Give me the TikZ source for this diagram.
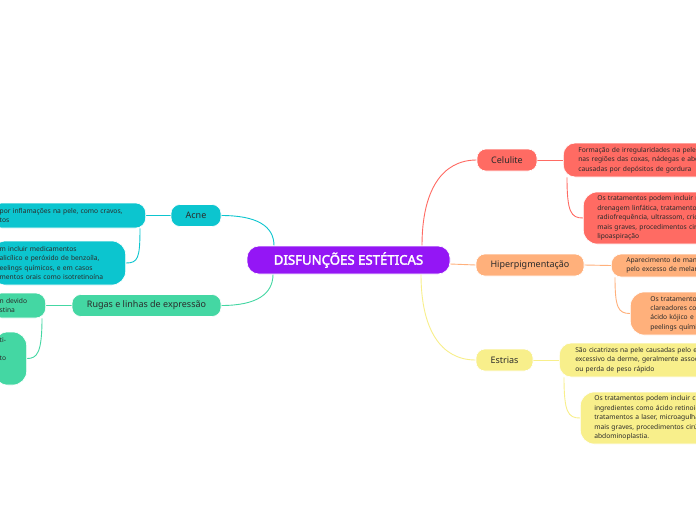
\documentclass[tikz,border=0pt]{standalone}
\usepackage{fontspec}
\setmainfont{Noto Sans}
\newfontfamily\centralfont{Noto Sans}[FakeBold=2.4]
\usetikzlibrary{backgrounds}
\definecolor{cpurple}{HTML}{9416F5}
\definecolor{ccyan}{HTML}{0CC5CF}
\definecolor{cgreen}{HTML}{44D7A3}
\definecolor{cred}{HTML}{FF6B63}
\definecolor{corange}{HTML}{FFB07B}
\definecolor{cyellow}{HTML}{F8EF8B}
\definecolor{tdark}{HTML}{2B2B2B}
\tikzset{
  central/.style={rounded corners=12pt, draw=white, line width=0.6pt, fill=cpurple, text=white,
    minimum width=203pt, minimum height=28pt, inner sep=0pt, font=\centralfont\fontsize{13.2}{15}\selectfont},
  topic/.style={rounded corners=9pt, draw=white, line width=0.6pt, minimum height=22pt, inner sep=0pt,
    text=tdark, font=\fontsize{9}{11}\selectfont},
  detail/.style={rounded corners=11pt, draw=white, line width=0.6pt, inner ysep=0pt, text=tdark,
    align=left, font=\fontsize{6.7}{9.4}\selectfont},
  conn/.style={line width=0.9pt},
}
\begin{document}
\begin{tikzpicture}[x=1pt,y=-1pt]
\useasboundingbox (0,0) rectangle (696,520);
\clip (0,0) rectangle (696,520);
% central
\node[central] (C) at (348.5,260) {DISFUNÇÕES ESTÉTICAS};
% topics
\node[topic, fill=ccyan, minimum width=50pt] (Acne) at (196,215.5) {Acne};
\node[topic, fill=cgreen, minimum width=149pt] (Rug) at (146.5,305.5) {Rugas e linhas de expressão};
\node[topic, fill=cred, minimum width=60pt] (Cel) at (507,160) {Celulite};
\node[topic, fill=corange, minimum width=108pt] (Hip) at (530,265) {Hiperpigmentação};
\node[topic, fill=cyellow, minimum width=57pt] (Est) at (504.5,360) {Estrias};
% left details
\node[detail, fill=ccyan, anchor=east, text width=138pt, inner xsep=8pt, minimum height=25pt, rounded corners=10pt]
  (AD1) at (146,215.5) {por inflamações na pele, como cravos,\\tos};
\node[detail, fill=ccyan, anchor=east, text width=118pt, inner xsep=8pt, minimum height=44pt, rounded corners=14pt]
  (AD2) at (126,263) {m incluir medicamentos\\alicílico e peróxido de benzoíla,\\eelings químicos, e em casos\\mentos orais como isotretinoína};
\node[detail, fill=cgreen, anchor=east, text width=38pt, inner xsep=8pt, minimum height=25pt, rounded corners=10pt]
  (RD1) at (46,305.5) {n devido\\stina};
\node[detail, fill=cgreen, anchor=east, text width=21pt, inner xsep=6pt, minimum height=53pt, rounded corners=14pt]
  (RD2) at (27,358.5) {ti-\\\mbox{}\\to\\\mbox{}\\\mbox{}};
% right details
\node[detail, fill=cred, anchor=west, text width=220pt, inner xsep=15pt, minimum height=34pt, rounded corners=12pt]
  (CD1) at (563,160) {Formação de irregularidades na pele,\\nas regiões das coxas, nádegas e abdômen,\\causadas por depósitos de gordura};
\node[detail, fill=cred, anchor=west, text width=220pt, inner xsep=14pt, minimum height=52pt, rounded corners=14pt]
  (CD2) at (583,218) {Os tratamentos podem incluir massagens,\\drenagem linfática, tratamentos com\\radiofrequência, ultrassom, criolipólise e, em casos\\mais graves, procedimentos cirúrgicos como\\lipoaspiração};
\node[detail, fill=corange, anchor=west, text width=220pt, inner xsep=15pt, minimum height=23pt, rounded corners=10pt]
  (HD1) at (611,265.5) {Aparecimento de manchas escuras na pele\\pelo excesso de melanina};
\node[detail, fill=corange, anchor=west, text width=220pt, inner xsep=20pt, minimum height=43pt, rounded corners=14pt]
  (HD2) at (630,313.5) {Os tratamentos podem incluir cremes\\clareadores como hidroquinona,\\ácido kójico e vitamina C, além de\\peelings químicos e laser};
\node[detail, fill=cyellow, anchor=west, text width=220pt, inner xsep=16pt, minimum height=34pt, rounded corners=12pt]
  (ED1) at (559,360) {São cicatrizes na pele causadas pelo estiramento\\excessivo da derme, geralmente associadas à gravidez\\ou perda de peso rápido};
\node[detail, fill=cyellow, anchor=west, text width=220pt, inner xsep=14pt, minimum height=52pt, rounded corners=14pt]
  (ED2) at (580,418) {Os tratamentos podem incluir cremes com\\ingredientes como ácido retinoico,\\tratamentos a laser, microagulhamento e, em casos\\mais graves, procedimentos cirúrgicos como\\abdominoplastia.};
% connectors
\begin{scope}[on background layer]
\fill[white] (0,0) rectangle (696,520);
\draw[conn, ccyan] (Acne.east) .. controls +(35,0) and +(0,-20) .. ([xshift=-74.5pt]C.north);
\draw[conn, cgreen] (Rug.east) .. controls +(35,0) and +(0,20) .. ([xshift=-75.5pt]C.south);
\draw[conn, cred] ([xshift=73.5pt]C.north) .. controls +(0,-55) and +(-35,0) .. (Cel.west);
\draw[conn, cyellow] ([xshift=72.5pt]C.south) .. controls +(0,55) and +(-35,0) .. (Est.west);
\draw[conn, corange] ([yshift=-4pt]C.east) -- (Hip.west);
\draw[conn, ccyan] (Acne.west) -- (AD1.east);
\draw[conn, ccyan] ([xshift=-6pt]AD1.south east) .. controls +(0,30) and +(12,0) .. (AD2.east);
\draw[conn, cgreen] (Rug.west) -- (RD1.east);
\draw[conn, cgreen] ([xshift=-4pt]RD1.south east) .. controls +(0,35) and +(10,0) .. (RD2.east);
\draw[conn, cred] (Cel.east) -- (CD1.west);
\draw[conn, cred] ([xshift=4pt]CD1.south west) .. controls +(0,35) and +(-12,0) .. (CD2.west);
\draw[conn, corange] (Hip.east) -- (HD1.west);
\draw[conn, corange] ([xshift=4pt]HD1.south west) .. controls +(0,30) and +(-12,0) .. (HD2.west);
\draw[conn, cyellow] (Est.east) -- (ED1.west);
\draw[conn, cyellow] ([xshift=5pt]ED1.south west) .. controls +(0,35) and +(-12,0) .. (ED2.west);
\end{scope}
\end{tikzpicture}
\end{document}
